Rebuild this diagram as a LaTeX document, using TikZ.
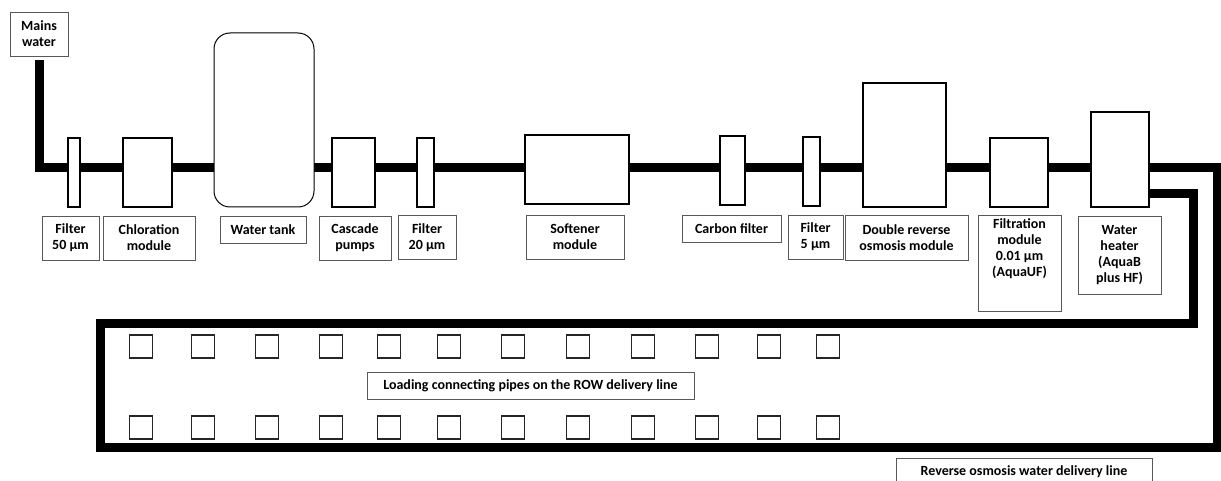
\documentclass[tikz,border=0pt]{standalone}
\usepackage{fontspec}
\setmainfont{Carlito}
\usetikzlibrary{backgrounds}
\begin{document}
\begin{tikzpicture}[x=1pt,y=-1pt,
  comp/.style={draw=black, line width=1.5pt, fill=white, inner sep=0pt},
  lbl/.style={draw=black!65, line width=0.8pt, fill=white, inner sep=0pt,
    font=\bfseries\fontsize{14}{16}\selectfont, align=center},
  lbltext/.style={font=\bfseries\fontsize{14}{16}\selectfont, align=center},
  sq/.style={draw=black!85, line width=1.2pt, fill=white, minimum width=23pt, minimum height=23pt, inner sep=0pt},
  pipe/.style={line width=9pt, draw=black, line join=miter}]
\useasboundingbox (0,0) rectangle (1221,481);
\clip (0,0) rectangle (1221,481);
% components
\node[lbl, minimum width=58pt, minimum height=44pt] (mains) at (39,34) {Mains\\water};
\node[comp, minimum width=12pt, minimum height=69pt] (f50) at (74,172.5) {};
\node[comp, minimum width=49pt, minimum height=69pt] (chlor) at (147.5,172.5) {};
\node[comp, minimum width=100pt, minimum height=174pt, rounded corners=16pt, line width=1pt] (tank) at (264,120) {};
\node[comp, minimum width=43pt, minimum height=69pt] (pumps) at (353.5,172.5) {};
\node[comp, minimum width=17pt, minimum height=69pt] (f20) at (425.5,172.5) {};
\node[comp, minimum width=104pt, minimum height=69pt] (soft) at (577,169.5) {};
\node[comp, minimum width=25pt, minimum height=69pt] (carbon) at (732.5,170.5) {};
\node[comp, minimum width=17pt, minimum height=69pt] (f5) at (811.5,171.5) {};
\node[comp, minimum width=83pt, minimum height=124pt] (ro) at (904.5,145) {};
\node[comp, minimum width=58pt, minimum height=69pt] (uf) at (1019,172.5) {};
\node[comp, minimum width=58pt, minimum height=95pt] (heater) at (1120,159.5) {};
% labels
\node[lbl, minimum width=57pt, minimum height=44pt] (lf50) at (70.5,238) {Filter\\50 µm};
\node[lbl, minimum width=92pt, minimum height=44pt] (lchlor) at (149,238) {Chloration\\module};
\node[lbl, minimum width=86pt, minimum height=27pt] (ltank) at (263,229.5) {Water tank};
\node[lbl, minimum width=72pt, minimum height=44pt] (lpumps) at (355,238) {Cascade\\pumps};
\node[lbl, minimum width=58pt, minimum height=44pt] (lf20) at (427,237.5) {Filter\\20 µm};
\node[lbl, minimum width=98pt, minimum height=44pt] (lsoft) at (575,237) {Softener\\module};
\node[lbl, minimum width=99pt, minimum height=27pt] (lcarbon) at (731.5,228.5) {Carbon filter};
\node[lbl, minimum width=55pt, minimum height=44pt] (lf5) at (815.5,237) {Filter\\5 µm};
\node[lbl, minimum width=123pt, minimum height=45pt] (lro) at (906.5,237.5) {Double reverse\\osmosis module};
\node[lbl, minimum width=83pt, minimum height=96pt,
  label={[lbltext, anchor=north, inner sep=4pt]north:{Filtration\\module\\0.01 µm\\(AquaUF)}}] (luf) at (1019.5,263) {};
\node[lbl, minimum width=83pt, minimum height=78pt] (lheater) at (1119.5,255) {Water\\heater\\(AquaB\\plus HF)};
\node[lbl, minimum width=327pt, minimum height=27pt] (lload) at (530.5,385.5) {Loading connecting pipes on the ROW delivery line};
\node[lbl, minimum width=256pt, minimum height=27pt] (lrow) at (1024,471.5) {Reverse osmosis water delivery line};
% connecting pipes
\foreach \i/\x in {1/141,2/203,3/267,4/331,5/389,6/449,7/513,8/578,9/643,10/707,11/769,12/828}{
  \node[sq] (top\i) at (\x,346.5) {};
  \node[sq] (bot\i) at (\x,427.5) {};
}
% pipes
\coordinate (r1) at (1217,168);
\coordinate (r2) at (1217,447);
\coordinate (l1) at (100,447);
\coordinate (l2) at (100,323);
\coordinate (r3) at (1193,323);
\coordinate (r4) at (1193,194);
\coordinate (ret) at (0,194);
\begin{scope}[on background layer]
\draw[pipe] ([yshift=-4pt]mains.south) |- (r1) -- (r2) -- (l1) -- (l2) -- (r3) -- (r4) -- (heater.center |- ret);
\end{scope}
\end{tikzpicture}
\end{document}
